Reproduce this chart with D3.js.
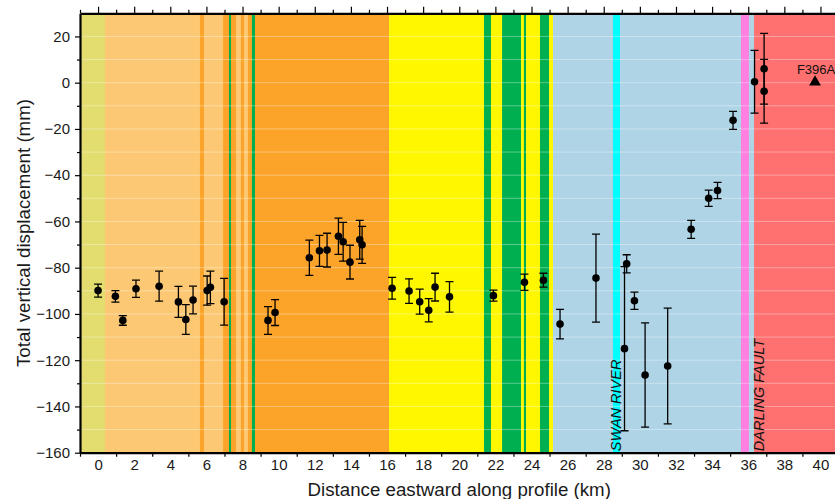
<!DOCTYPE html>
<html>
<head>
<meta charset="utf-8">
<script src="https://cdn.jsdelivr.net/npm/d3@7"></script>
<style>
  html, body { margin: 0; padding: 0; background: #ffffff; }
  svg { display: block; font-family: "Liberation Sans", Arial, Helvetica, sans-serif; }
</style>
</head>
<body>
<svg id="chart" width="835" height="499"></svg>
<script>
// ---- data ----
const bandStart = [-1, 0.38, 5.64, 5.87, 6.92, 7.25, 7.36, 7.64, 7.91, 8.08, 8.30, 8.52, 8.69, 16.11, 21.37, 21.76, 22.37, 23.42, 23.58, 23.70, 24.47, 24.97, 25.19, 28.51, 28.90, 35.60, 36.04, 36.32];
const bandEnd   = [0.38, 5.64, 5.87, 6.92, 7.25, 7.36, 7.64, 7.91, 8.08, 8.30, 8.52, 8.69, 16.11, 21.37, 21.76, 22.37, 23.42, 23.58, 23.70, 24.47, 24.97, 25.19, 28.51, 28.90, 35.60, 36.04, 36.32, 41];
const bandUnit  = ["olive", "lightorange", "orange", "lightorange", "orange", "green", "orange", "lightorange", "orange", "lightorange", "orange", "green", "orange", "yellow", "green", "yellow", "green", "yellow", "green", "yellow", "green", "yellow", "lightblue", "cyan", "lightblue", "magenta", "lightblue", "red"];
const unitColor = {olive: "#e2dd6e", lightorange: "#fdc873", orange: "#fca32a", green: "#00b050", yellow: "#fff700", lightblue: "#aed4e6", cyan: "#00ffff", magenta: "#ff80e0", red: "#ff7070"};

const distanceKm = [0.00, 0.96, 1.37, 2.10, 3.38, 4.45, 4.86, 5.26, 6.04, 6.22, 6.98, 9.41, 9.80,
  11.70, 12.26, 12.68, 13.31, 13.57, 13.95, 14.49, 14.62,
  16.28, 17.22, 17.81, 18.31, 18.66, 19.46, 21.89, 23.61, 24.66,
  25.58, 27.57, 29.15, 29.27, 29.70, 30.29, 31.54, 32.84, 33.81, 34.30, 35.16, 36.35, 36.88, 36.88];
const displacementMm = [-89.9, -92.4, -102.8, -89.1, -88.0, -94.8, -102.4, -94.0, -89.9, -88.5, -94.7, -102.8, -99.4,
  -75.7, -72.7, -72.4, -66.4, -68.8, -77.6, -67.9, -70.1,
  -88.9, -90.1, -94.7, -98.4, -88.4, -92.6, -92.1, -86.3, -85.4,
  -104.4, -84.5, -115.0, -78.3, -94.3, -126.4, -122.5, -63.4, -50.0, -46.6, -16.3, 0.4, 6.0, -3.7];
const errorMm = [2.8, 2.5, 2.1, 3.7, 6.5, 6.7, 6.4, 6.0, 6.3, 7.0, 10.1, 6.0, 5.6,
  7.6, 6.7, 7.3, 7.8, 8.4, 7.3, 8.4, 8.0,
  4.7, 5.3, 5.4, 5.0, 6.0, 6.6, 2.4, 3.5, 3.0,
  6.4, 19.0, 35.5, 3.9, 3.7, 22.5, 25.0, 3.9, 3.5, 3.5, 3.9, 13.6, 15.3, 13.8];

const refStation = {name: "F396A", km: 39.7, mm: 0.3};
const featureLabels = [{text: "SWAN RIVER", km: 28.93}, {text: "DARLING FAULT", km: 36.88}];

const xMajorTicks = d3.range(0, 41, 2);
const xMinorTicks = d3.range(-1, 41, 2);
const yMajorTicks = d3.range(-160, 21, 20);
const yMinorTicks = d3.range(-150, 21, 20);
const gridValues = d3.range(-150, 30, 10);

// ---- layout ----
const svg = d3.select("#chart");
const mLeft = 80, mTop = 13.3, mBottom = 452.7;
const x = d3.scaleLinear().domain([-1, 41]).range([mLeft, mLeft + 42 * 18.06]);
const y = d3.scaleLinear().domain([-160, 30]).range([mBottom, mTop]);
const mRight = x(41);

svg.append("defs").append("clipPath").attr("id", "plotclip")
  .append("rect").attr("x", mLeft).attr("y", mTop).attr("width", mRight - mLeft).attr("height", mBottom - mTop);

const plot = svg.append("g").attr("clip-path", "url(#plotclip)");

// bands
plot.append("g").selectAll("rect")
  .data(bandStart.map((s, i) => ({s, e: bandEnd[i], u: bandUnit[i]})))
  .join("rect")
  .attr("x", d => x(d.s))
  .attr("width", d => x(d.e) - x(d.s) + 0.3)
  .attr("y", mTop).attr("height", mBottom - mTop)
  .attr("fill", d => unitColor[d.u]);

// grid
plot.append("g").selectAll("line").data(gridValues).join("line")
  .attr("x1", mLeft).attr("x2", mRight)
  .attr("y1", d => y(d)).attr("y2", d => y(d))
  .attr("stroke", "#ffffff").attr("stroke-opacity", 0.35).attr("stroke-width", 1);

// feature labels
plot.append("g").selectAll("text").data(featureLabels).join("text")
  .attr("transform", d => `translate(${x(d.km)},${mBottom - 1.5}) rotate(-90)`)
  .attr("text-anchor", "start")
  .attr("font-style", "italic")
  .attr("font-size", 14.5)
  .attr("fill", "#111")
  .text(d => d.text);

// error bars
const pts = distanceKm.map((k, i) => ({k, v: displacementMm[i], e: errorMm[i]}));
const eb = plot.append("g").attr("stroke", "#000").attr("stroke-width", 1.3).attr("fill", "none");
eb.selectAll("line.v").data(pts).join("line").attr("class", "v")
  .attr("x1", d => x(d.k)).attr("x2", d => x(d.k))
  .attr("y1", d => y(d.v + d.e)).attr("y2", d => y(d.v - d.e));
eb.selectAll("line.t").data(pts).join("line").attr("class", "t")
  .attr("x1", d => x(d.k) - 4).attr("x2", d => x(d.k) + 4)
  .attr("y1", d => y(d.v + d.e)).attr("y2", d => y(d.v + d.e));
eb.selectAll("line.b").data(pts).join("line").attr("class", "b")
  .attr("x1", d => x(d.k) - 4).attr("x2", d => x(d.k) + 4)
  .attr("y1", d => y(d.v - d.e)).attr("y2", d => y(d.v - d.e));

plot.append("g").selectAll("circle").data(pts).join("circle")
  .attr("cx", d => x(d.k)).attr("cy", d => y(d.v)).attr("r", 3.8)
  .attr("fill", "#000");

// reference station
plot.append("path")
  .attr("d", d3.symbol().type(d3.symbolTriangle).size(60))
  .attr("transform", `translate(${x(refStation.km)},${y(refStation.mm)})`)
  .attr("fill", "#000");
plot.append("text")
  .attr("x", x(refStation.km) + 1).attr("y", y(refStation.mm) - 8)
  .attr("text-anchor", "middle").attr("font-size", 13).attr("fill", "#111")
  .text(refStation.name);

// ---- axes ----
svg.append("g").attr("transform", `translate(${mLeft},0)`)
  .call(d3.axisLeft(y).tickValues(yMajorTicks).tickSize(5).tickSizeOuter(0).tickPadding(5).tickFormat(d3.format("")));
svg.append("g").attr("transform", `translate(${mLeft},0)`)
  .call(d3.axisLeft(y).tickValues(yMinorTicks).tickSize(3).tickSizeOuter(0).tickFormat(""))
  .select(".domain").remove();

svg.append("g").attr("transform", `translate(0,${mBottom})`)
  .call(d3.axisBottom(x).tickValues(xMajorTicks).tickSize(0).tickSizeOuter(0).tickPadding(7).tickFormat(d3.format("")));
svg.append("g").attr("transform", `translate(0,${mBottom})`)
  .call(d3.axisBottom(x).tickValues(xMinorTicks).tickSize(4).tickSizeOuter(0).tickFormat(""))
  .select(".domain").remove();

svg.append("g").attr("transform", `translate(0,${mTop})`)
  .call(d3.axisTop(x).tickValues(xMajorTicks).tickSize(6.5).tickSizeOuter(0).tickFormat(""));
svg.append("g").attr("transform", `translate(0,${mTop})`)
  .call(d3.axisTop(x).tickValues(xMinorTicks).tickSize(3.5).tickSizeOuter(0).tickFormat(""))
  .select(".domain").remove();

svg.selectAll(".domain").attr("stroke", "#000").attr("stroke-width", 2.2);
svg.selectAll(".tick line").attr("stroke", "#000").attr("stroke-width", 1.2);
svg.selectAll(".tick text").attr("font-size", 15).attr("fill", "#1a1a1a")
  .style("font-family", "'Liberation Sans', Arial, sans-serif");

// axis titles
svg.append("text")
  .attr("x", (mLeft + mRight) / 2).attr("y", 496)
  .attr("text-anchor", "middle").attr("font-size", 18.7).attr("fill", "#1a1a1a")
  .text("Distance eastward along profile (km)");
svg.append("text")
  .attr("transform", `translate(30,${(mTop + mBottom) / 2}) rotate(-90)`)
  .attr("text-anchor", "middle").attr("font-size", 18.7).attr("fill", "#1a1a1a")
  .text("Total vertical displacement (mm)");
</script>
</body>
</html>
